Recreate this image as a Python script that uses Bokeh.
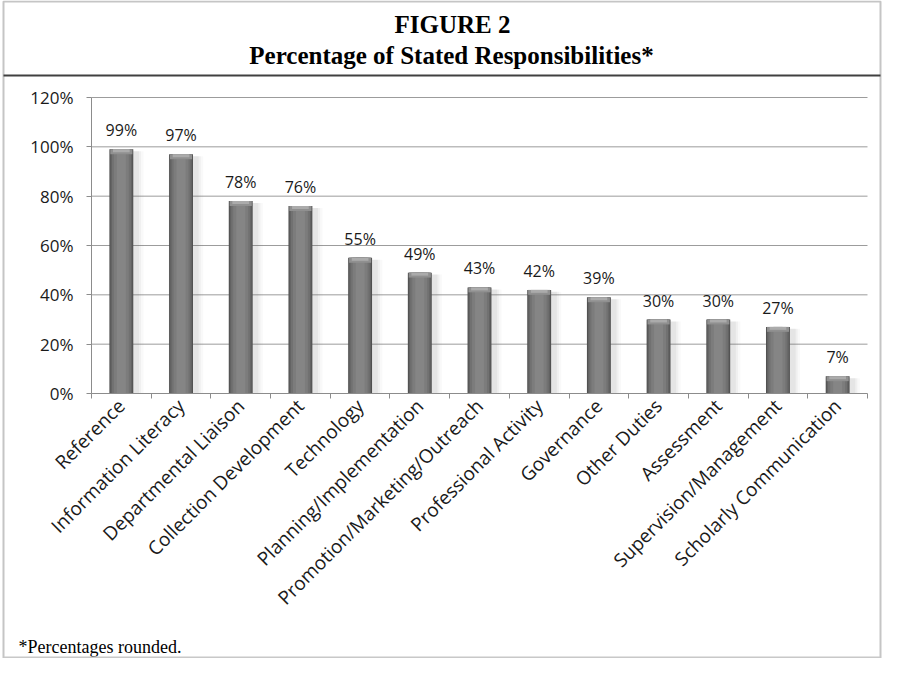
import numpy as np
from math import pi
from bokeh.plotting import figure
from bokeh.models import (FixedTicker, NumeralTickFormatter, Label, BoxAnnotation, Range1d)
from bokeh.embed import file_html
from bokeh.resources import INLINE
from bokeh.core.properties import value

# ---------------- data ----------------
categories = ["Reference", "Information Literacy", "Departmental Liaison",
              "Collection Development", "Technology", "Planning/Implementation",
              "Promotion/Marketing/Outreach", "Professional Activity", "Governance",
              "Other Duties", "Assessment", "Supervision/Management",
              "Scholarly Communication"]
values = [0.99, 0.97, 0.78, 0.76, 0.55, 0.49, 0.43, 0.42, 0.39, 0.30, 0.30, 0.27, 0.07]
y_ticks = [0.0, 0.2, 0.4, 0.6, 0.8, 1.0, 1.2]
title_lines = ["FIGURE 2", "Percentage of Stated Responsibilities*"]
footnote = "*Percentages rounded."

# ---------------- layout (canvas pixels) ----------------
W, H = 882, 658
FL, FR, FT, FB = 91, 867, 97, 393      # plot area: left, right, top(120%), bottom(0%)
n = len(categories)
ymax = y_ticks[-1]
kx = (FR - FL) / n
ky = (FB - FT) / ymax

centers = [i + 0.5 for i in range(n)]
bounds = [float(i) for i in range(n + 1)]
xs = np.array(centers)
vals = np.array(values)
labels = [f"{round(v * 100)}%" for v in values]

p = figure(width=W, height=H, output_backend="svg", toolbar_location=None,
           x_range=Range1d(-FL / kx, (W - FL) / kx),
           y_range=Range1d(-(H - FB) / ky, ymax + FT / ky),
           min_border=0)
p.min_border_left = p.min_border_right = p.min_border_top = p.min_border_bottom = 0
p.outline_line_color = None
p.background_fill_color = "white"
p.border_fill_color = "white"
p.xgrid.visible = False
p.ygrid.visible = False

# horizontal grid lines (from the tick values)
gy = y_ticks[1:]
p.segment(x0=[0] * len(gy), x1=[n] * len(gy), y0=gy, y1=gy,
          line_color="#9c9c9c", line_width=1)

# y axis, fixed at x = 0
ya = p.yaxis[0]
ya.fixed_location = 0
ya.bounds = (0, ymax)
ya.ticker = FixedTicker(ticks=y_ticks)
ya.formatter = NumeralTickFormatter(format="0%")
ya.axis_line_color = "#8c8c8c"
ya.major_tick_line_color = "#8c8c8c"
ya.major_tick_out = 5
ya.major_tick_in = 0
ya.minor_tick_line_color = None
ya.major_label_standoff = 13
ya.major_label_text_font = "Open Sans"
ya.major_label_text_font_size = "17px"
ya.major_label_text_color = "#1a1a1a"

# x axis, fixed at y = 0
xa = p.xaxis[0]
xa.fixed_location = 0
xa.bounds = (0, n)
xa.ticker = FixedTicker(ticks=centers, minor_ticks=bounds)
xa.major_label_overrides = {c: name for c, name in zip(centers, categories)}
xa.major_label_orientation = pi / 4
xa.axis_line_color = "#8c8c8c"
xa.major_tick_line_color = None
xa.minor_tick_line_color = "#8c8c8c"
xa.minor_tick_out = 5
xa.minor_tick_in = 0
xa.major_label_standoff = 3
xa.major_label_text_font = "Open Sans"
xa.major_label_text_font_size = "19px"
xa.major_label_text_color = "#1a1a1a"

# soft shadows to the right of the bars
for off, w, a in [(0.08, 0.58, 0.04), (0.07, 0.52, 0.06), (0.06, 0.47, 0.08)]:
    p.vbar(x=xs + off, top=vals - 0.008, bottom=0, width=w,
           fill_color="#606060", fill_alpha=a, line_color=None)

# bar body, layered to imitate a cylinder
for w, c in [(0.40, "#4e4e4e"), (0.37, "#626262"), (0.32, "#717171"),
             (0.25, "#7c7c7c"), (0.15, "#858585")]:
    p.vbar(x=xs, top=vals, bottom=0, width=w, fill_color=c, line_color=None)

# lighter top cap
p.vbar(x=xs, top=vals, bottom=vals - 0.02, width=0.37, fill_color="#909090", line_color=None)
p.vbar(x=xs, top=vals, bottom=vals - 0.012, width=0.28, fill_color="#ababab", line_color=None)

# value labels
p.text(x=xs, y=vals, text=labels, y_offset=-19, text_align="center",
       text_baseline="alphabetic", text_font=value("Open Sans"),
       text_font_size="16px", text_color="#1a1a1a")

# titles and footnote (canvas units: x right, y down)
p.add_layout(Label(x=452, y=24, x_units="canvas", y_units="canvas",
                   text=title_lines[0], text_align="center", text_baseline="alphabetic",
                   text_font="Liberation Serif", text_font_style="bold",
                   text_font_size="25px", text_color="black"))
p.add_layout(Label(x=451, y=55, x_units="canvas", y_units="canvas",
                   text=title_lines[1], text_align="center", text_baseline="alphabetic",
                   text_font="Liberation Serif", text_font_style="bold",
                   text_font_size="25px", text_color="black"))
p.add_layout(Label(x=18, y=646, x_units="canvas", y_units="canvas",
                   text=footnote, text_align="left", text_baseline="alphabetic",
                   text_font="Liberation Serif", text_font_size="18px", text_color="black"))

# frame lines
p.add_layout(BoxAnnotation(left=3, right=880, top=1, bottom=H + 10,
                           left_units="canvas", right_units="canvas",
                           top_units="canvas", bottom_units="canvas",
                           fill_alpha=0, line_color="#404040", line_width=2))
p.add_layout(BoxAnnotation(left=3, right=880, top=74, bottom=76,
                           left_units="canvas", right_units="canvas",
                           top_units="canvas", bottom_units="canvas",
                           fill_color="#404040", fill_alpha=1, line_color=None))
p.add_layout(BoxAnnotation(left=3, right=880, top=656, bottom=658,
                           left_units="canvas", right_units="canvas",
                           top_units="canvas", bottom_units="canvas",
                           fill_color="#c8c8c8", fill_alpha=1, line_color=None))

open("out.html", "w").write(file_html(p, INLINE))
